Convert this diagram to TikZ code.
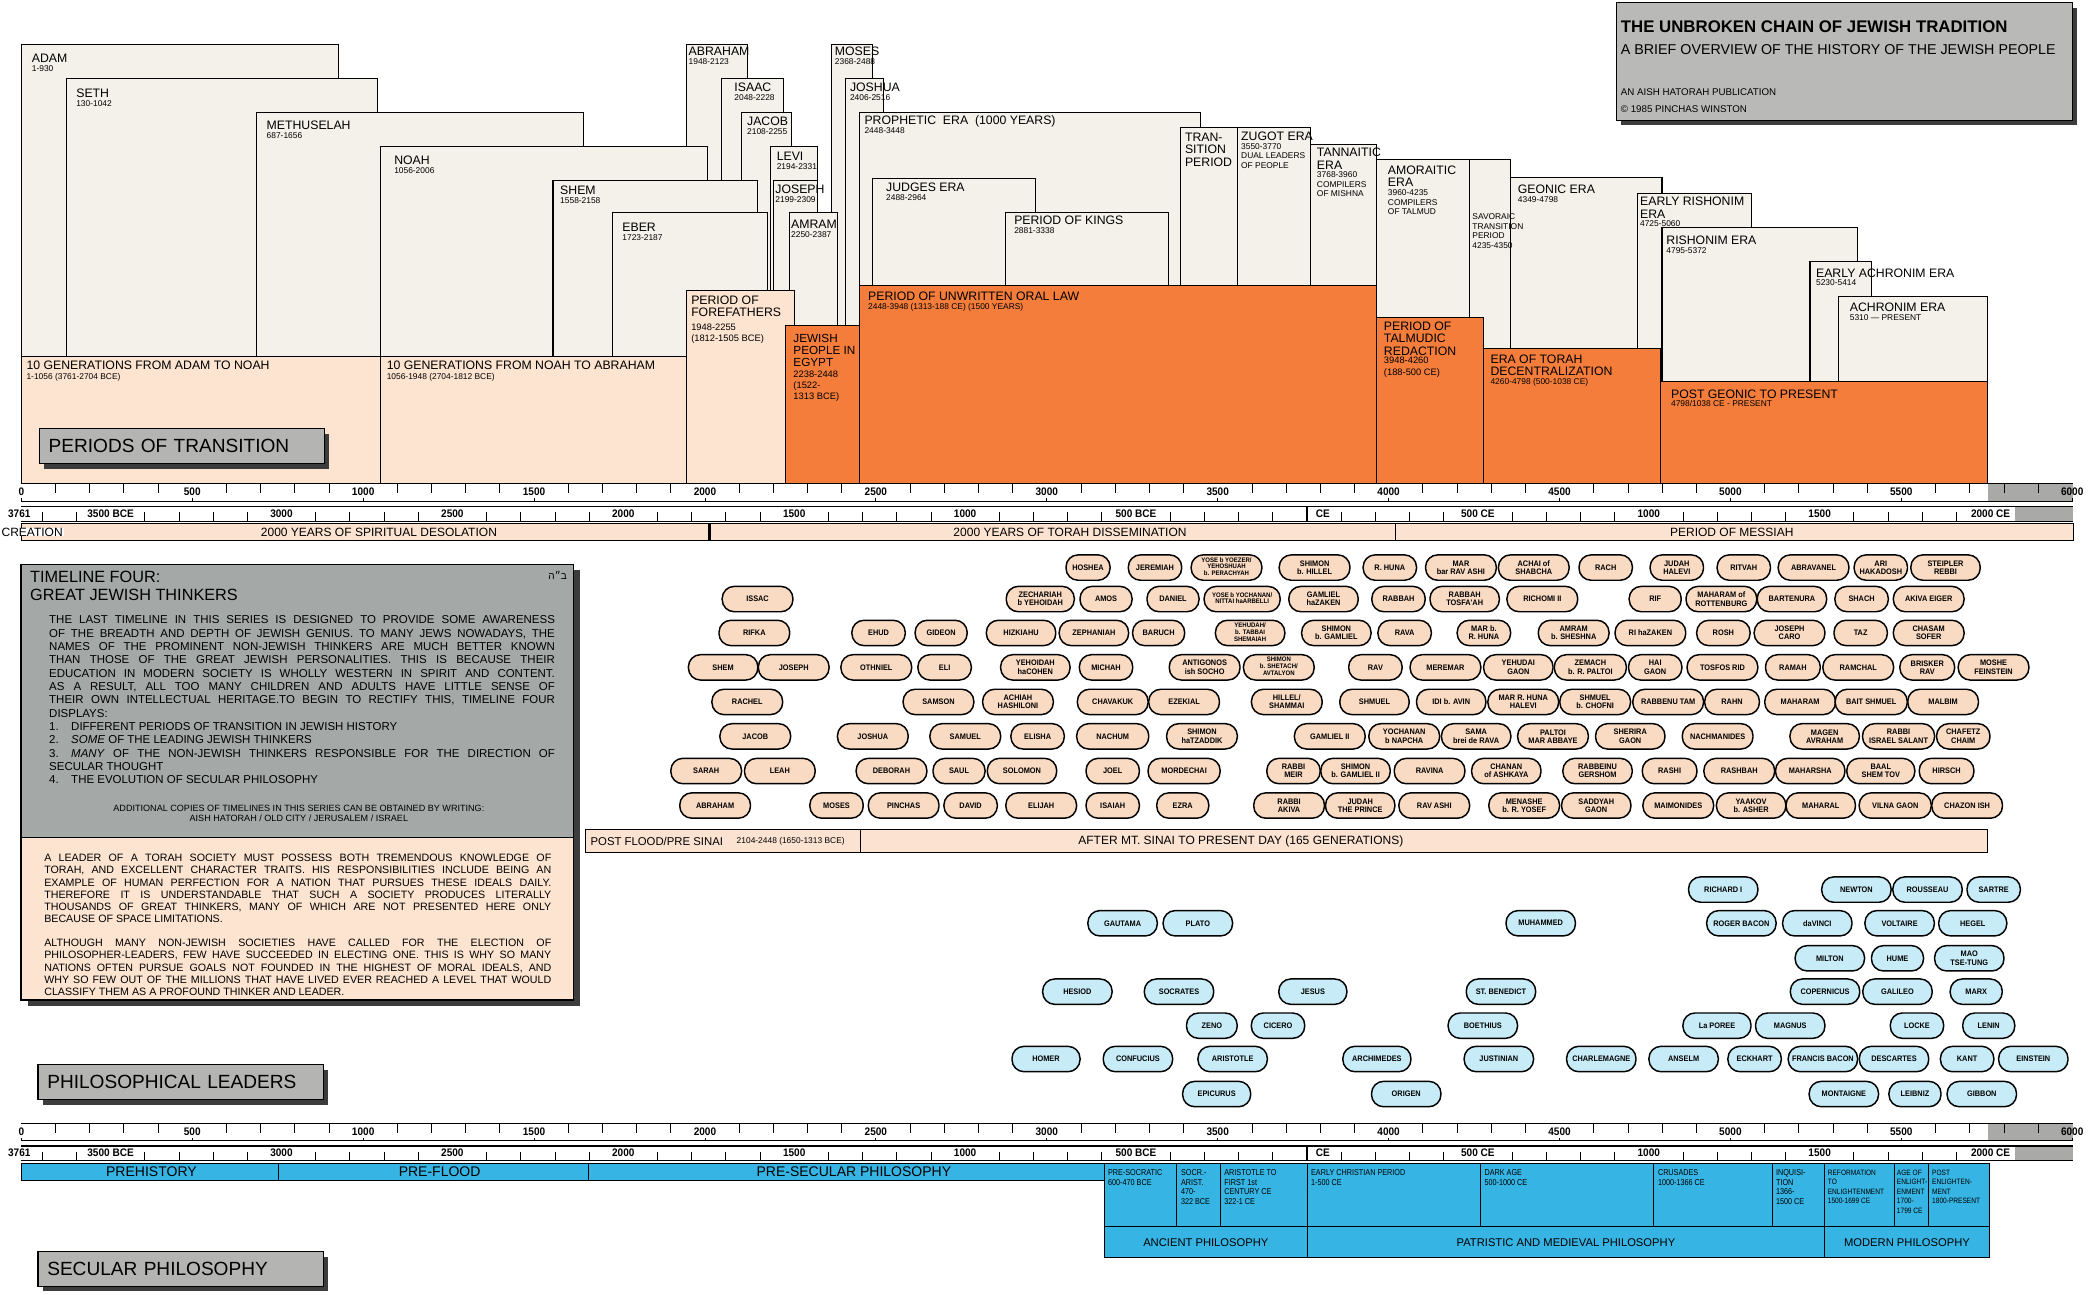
\documentclass[tikz,border=0pt]{standalone}
\usepackage{fontspec}
\setmainfont{Liberation Sans}
\newfontfamily\ovalfont[FakeStretch=0.92]{Liberation Sans}
\newfontfamily\narrowfont[FakeStretch=0.85]{Liberation Sans}
\newfontfamily\hebfont[Script=Hebrew]{Liberation Sans}
\TeXXeTstate=1
\newcommand\smalloval[1]{{\fontsize{4.9}{5.1}\selectfont\begin{tabular}{@{}c@{}}#1\end{tabular}}}

\definecolor{cream}{HTML}{F4F1EA}
\definecolor{genpeach}{HTML}{FCE4D0}
\definecolor{lawred}{HTML}{F47D3B}
\definecolor{barpeach}{HTML}{FCE3D1}
\definecolor{ovalpeach}{HTML}{F9DAC2}
\definecolor{philblue}{HTML}{36B4E3}
\definecolor{ovalblue}{HTML}{C8ECF7}
\definecolor{taggray}{HTML}{B4B5B2}
\definecolor{titlegray}{HTML}{B9BAB7}
\definecolor{tlgray}{HTML}{A4A8A6}
\definecolor{axgray}{HTML}{A9AAA8}
\definecolor{shadowgray}{HTML}{3C3C3C}

\tikzset{
  era/.style={draw, line width=0.8pt, fill=cream},
  gen/.style={draw, line width=0.8pt, fill=genpeach},
  law/.style={draw, line width=0.8pt, fill=lawred},
  nm/.style={anchor=north west, inner sep=0pt, align=left, font=\fontsize{9.2}{9.3}\selectfont},
  dt/.style={anchor=north west, inner sep=0pt, align=left, font=\fontsize{6.3}{7.2}\selectfont},
  bigdt/.style={dt, font=\fontsize{7}{8.4}\selectfont},
  axl/.style={inner sep=0pt, font=\ovalfont\bfseries\fontsize{8.2}{8.2}\selectfont},
  pbar/.style={draw, line width=0.7pt, fill=barpeach},
  bartext/.style={inner sep=0pt, font=\fontsize{9}{9}\selectfont},
  thinker/.style={draw, line width=1.1pt, fill=ovalpeach, rounded corners=9pt,
    minimum height=19pt, inner sep=0.5pt, align=center,
    font=\ovalfont\bfseries\fontsize{6}{6.2}\selectfont},
  philo/.style={thinker, fill=ovalblue},
  shadowed/.style={preaction={fill=shadowgray, transform canvas={xshift=3.5pt, yshift=-4pt}}},
  tag/.style={shadowed, draw, line width=0.9pt, fill=taggray, anchor=north west,
    text width=200pt, inner xsep=7pt, inner ysep=0pt, minimum height=26pt,
    align=left, font=\fontsize{14.3}{15}\selectfont},
  bluebar/.style={draw, line width=0.7pt, fill=philblue},
  philtxt/.style={anchor=north west, inner sep=0pt, align=left, font=\narrowfont\fontsize{6.4}{7.2}\selectfont},
  philsmall/.style={philtxt, font=\narrowfont\fontsize{5.8}{7.2}\selectfont},
  philbig/.style={inner sep=0pt, font=\fontsize{8.4}{8.4}\selectfont},
}

\begin{document}
\begin{tikzpicture}[x=1pt,y=-1pt]
\useasboundingbox (0,0) rectangle (1568,970);

% title
\node[shadowed, draw, line width=0.9pt, fill=titlegray, anchor=north west, minimum width=341.8pt, minimum height=88.4pt, inner sep=0pt] (titlebox) at (1211.2,1.2) {};
\node[anchor=north west, inner sep=0pt, font=\bfseries\fontsize{12.6}{12.6}\selectfont] (title) at (1214.7,15) {THE UNBROKEN CHAIN OF JEWISH TRADITION};
\node[anchor=north west, inner sep=0pt, font=\fontsize{10.7}{10.7}\selectfont] (subtitle) at (1214.7,33) {A BRIEF OVERVIEW OF THE HISTORY OF THE JEWISH PEOPLE};
\node[anchor=north west, inner sep=0pt, font=\fontsize{7.3}{7.3}\selectfont] (pub) at (1214.7,66) {AN AISH HATORAH PUBLICATION};
\node[anchor=north west, inner sep=0pt, font=\fontsize{7.3}{7.3}\selectfont] (copyr) at (1214.7,79) {\textcopyright\ 1985 PINCHAS WINSTON};

% generations and eras, drawn from the top row down
\foreach \l/\t/\r in {16/33/253.5, 514.5/33/560.5, 623/33/654,
    49.5/58.5/283, 540.5/58.5/587.5, 634/58.5/662,
    192/84/437.5, 556/84/593.5, 644.5/84/900,
    885/95.5/927.5, 927.5/95.5/982.5, 982.5/108/1031.8,
    285/109.5/530, 577.5/109.5/613,
    1031.8/119.5/1101.2, 1101.2/119.5/1132.2,
    1132.2/133.2/1245.7, 654/134/776.3,
    414.5/135/568, 579.5/135/612.5, 1227/145.2/1312.5,
    459/159.5/575.5, 591.5/159.5/628, 753.8/159.5/876,
    1245.7/170.8/1392.4, 1356.6/196.2/1402.9, 1378/222.1/1489.7}
  \draw[era] (\l,\t) rectangle (\r,362.5);

\draw[gen] (16,267) rectangle (285,362.5);
\draw[gen] (285,267) rectangle (514.5,362.5);
\draw[gen] (514.5,218) rectangle (595.5,362.5);
\draw[law] (588.5,243.7) rectangle (644.5,362.5);
\draw[law] (644.5,214) rectangle (1031.8,362.5);
\draw[law] (1031.8,237.8) rectangle (1112.2,362.5);
\draw[law] (1112.2,261.5) rectangle (1244.8,362.5);
\draw[law] (1244.8,285.6) rectangle (1489.7,362.5);

% era labels
\node[nm] (adam) at (23.7,40.5) {ADAM};
\node[dt] (adamd) at (23.7,49) {1-930};
\node[nm] (seth) at (57,66.3) {SETH};
\node[dt] (sethd) at (57,75) {130-1042};
\node[nm] (meth) at (199.7,90.8) {METHUSELAH};
\node[dt] (methd) at (199.7,99.5) {687-1656};
\node[nm] (noah) at (295.3,116.8) {NOAH};
\node[dt] (noahd) at (295.3,125.5) {1056-2006};
\node[nm] (shem) at (419.7,139.5) {SHEM};
\node[dt] (shemd) at (419.7,148.2) {1558-2158};
\node[nm] (eber) at (466.3,166.8) {EBER};
\node[dt] (eberd) at (466.3,175.5) {1723-2187};
\node[nm] (abraham) at (516,35) {ABRAHAM};
\node[dt] (abrahamd) at (516,43.7) {1948-2123};
\node[nm] (isaac) at (550.3,61.8) {ISAAC};
\node[dt] (isaacd) at (550.3,70.5) {2048-2228};
\node[nm] (jacob) at (559.8,87.5) {JACOB};
\node[dt] (jacobd) at (559.8,96.2) {2108-2255};
\node[nm] (levi) at (582,113.8) {LEVI};
\node[dt] (levid) at (582,122.5) {2194-2331};
\node[nm] (joseph) at (581,138.5) {JOSEPH};
\node[dt] (josephd) at (581,147.2) {2199-2309};
\node[nm] (amram) at (592.8,165) {AMRAM};
\node[dt] (amramd) at (592.8,173.7) {2250-2387};
\node[nm] (moses) at (625.6,35) {MOSES};
\node[dt] (mosesd) at (625.6,43.7) {2368-2488};
\node[nm] (joshua) at (636.9,61.8) {JOSHUA};
\node[dt] (joshuad) at (636.9,70.5) {2406-2516};
\node[nm] (prophetic) at (647.8,86.3) {PROPHETIC\ \ ERA\ \ (1000 YEARS)};
\node[dt] (propheticd) at (647.8,95.5) {2448-3448};
\node[nm] (judges) at (664,136.8) {JUDGES ERA};
\node[dt] (judgesd) at (664,145.5) {2488-2964};
\node[nm] (kings) at (760,162) {PERIOD OF KINGS};
\node[dt] (kingsd) at (760,170.7) {2881-3338};
\node[nm] (transition) at (888,99.5) {TRAN-\\SITION\\PERIOD};
\node[nm] (zugot) at (930.1,98.4) {ZUGOT ERA};
\node[dt] (zugotd) at (930.1,107.3) {3550-3770\\DUAL LEADERS\\OF PEOPLE};
\node[nm] (tannaitic) at (986.9,110.8) {TANNAITIC\\ERA};
\node[dt] (tannaiticd) at (986.9,128.5) {3768-3960\\COMPILERS\\OF MISHNA};
\node[nm] (amoraitic) at (1040.1,123.8) {AMORAITIC\\ERA};
\node[dt] (amoraiticd) at (1040.1,142) {3960-4235\\COMPILERS\\OF TALMUD};
\node[dt] (savoraic) at (1103.4,159.9) {SAVORAIC\\TRANSITION\\PERIOD\\4235-4350};
\node[nm] (geonic) at (1137.5,138.7) {GEONIC ERA};
\node[dt] (geonicd) at (1137.5,147.5) {4349-4798};
\node[nm] (earlyrishonim) at (1229.1,147.7) {EARLY RISHONIM\\ERA};
\node[dt] (earlyrishonimd) at (1229.1,165.2) {4725-5060};
\node[nm] (rishonim) at (1248.8,176.8) {RISHONIM ERA};
\node[dt] (rishonimd) at (1248.8,185.3) {4795-5372};
\node[nm] (earlyachronim) at (1361,201.2) {EARLY ACHRONIM ERA};
\node[dt] (earlyachronimd) at (1361,209.5) {5230-5414};
\node[nm] (achronim) at (1386.3,227.1) {ACHRONIM ERA};
\node[dt] (achronimd) at (1386.3,235.7) {5310 --- PRESENT};
\node[nm] (adamnoah) at (19.7,270) {10 GENERATIONS FROM ADAM TO NOAH};
\node[dt] (adamnoahd) at (19.7,280) {1-1056 (3761-2704 BCE)};
\node[nm] (noahabraham) at (289.7,270) {10 GENERATIONS FROM NOAH TO ABRAHAM};
\node[dt] (noahabrahamd) at (289.7,280) {1056-1948 (2704-1812 BCE)};
\node[nm, font=\fontsize{9.2}{9.6}\selectfont] (forefathers) at (517.9,221.3) {PERIOD OF\\FOREFATHERS};
\node[bigdt] (forefathersd) at (517.9,242.5) {1948-2255\\(1812-1505 BCE)};
\node[nm, font=\fontsize{8.8}{9.1}\selectfont] (egypt) at (594.5,250) {JEWISH\\PEOPLE IN\\EGYPT};
\node[bigdt] (egyptd) at (594.5,277.5) {2238-2448\\(1522-\\1313 BCE)};
\node[nm] (orallaw) at (650.5,218.8) {PERIOD OF UNWRITTEN ORAL LAW};
\node[dt] (orallawd) at (650.5,227.5) {2448-3948 (1313-188 CE) (1500 YEARS)};
\node[nm] (talmudic) at (1037.1,241) {PERIOD OF\\TALMUDIC\\REDACTION};
\node[bigdt] (talmudicd) at (1037.1,267.7) {3948-4260\\(188-500 CE)};
\node[nm] (decentral) at (1117,265.7) {ERA OF TORAH\\DECENTRALIZATION};
\node[dt] (decentrald) at (1117,283.6) {4260-4798 (500-1038 CE)};
\node[nm] (postgeonic) at (1252.3,291.8) {POST GEONIC TO PRESENT};
\node[dt] (postgeonicd) at (1252.3,299.7) {4798/1038 CE - PRESENT};

\node[tag] (ptrans) at (29,321) {PERIODS OF TRANSITION};

% the two year scales, above and below
\foreach \oy [count=\a] in {0,479.5}{
  \fill[axgray] (1489.7,362.5+\oy) rectangle (1554,375.5+\oy);
  \fill[axgray] (1510,379.5+\oy) rectangle (1554,390.5+\oy);
  \draw[line width=1.2pt] (16,362.5+\oy) -- (1554,362.5+\oy);
  \draw[line width=0.6pt] (16,375.5+\oy) -- (1554,375.5+\oy);
  \draw[line width=1.2pt] (16,379.5+\oy) -- (1554,379.5+\oy);
  \draw[line width=0.6pt] (16,390.5+\oy) -- (1554,390.5+\oy);
  \foreach \k in {1,...,59}{
    \pgfmathtruncatemacro\r{mod(\k,5)}
    \ifnum\r>0 \draw[line width=0.6pt] ({16+25.62*\k},362.5+\oy) -- ++(0,7);\fi}
  \foreach \y in {0,500,...,6000}{
    \node[axl] (am\a-\y) at ({16+0.2562*\y},368.8+\oy) {\y};
    \draw[line width=0.6pt] ({16+0.2562*\y},373.5+\oy) -- ++(0,2);}
  \foreach \k in {0,...,57}{
    \pgfmathtruncatemacro\r{mod(\k,5)}
    \ifnum\r=2 \else \draw[line width=0.6pt] ({31.63+25.62*\k},390.5+\oy) -- ++(0,-6.5);\fi}
  \foreach \k/\t [count=\c] in {2/3500 BCE,7/3000,12/2500,17/2000,22/1500,27/1000,32/500 BCE,42/500 CE,47/1000,52/1500,57/2000 CE}
    \node[axl] (ce\a-\c) at ({31.63+25.62*\k},384.8+\oy) {\t};
  \node[axl] (start\a) at (14.5,384.8+\oy) {3761};
  \draw[line width=1.4pt] (979.6,379.5+\oy) -- (979.6,390.5+\oy);
  \node[axl] (cel\a) at (991.5,384.8+\oy) {CE};
}

% eras of history
\draw[pbar] (16,392.5) rectangle (531.5,405);
\draw[pbar] (531.5,392.5) rectangle (1045.6,405);
\draw[pbar] (1045.6,392.5) rectangle (1554,405);
\draw[line width=2.2pt] (531.5,392.5) -- (531.5,405);
\node[bartext, fill=white, anchor=west, inner xsep=1pt] (creation) at (0,398.8) {CREATION};
\node[bartext] (desolation) at (284,398.8) {2000 YEARS OF SPIRITUAL DESOLATION};
\node[bartext] (dissemination) at (802,398.8) {2000 YEARS OF TORAH DISSEMINATION};
\node[bartext] (messiah) at (1298,398.8) {PERIOD OF MESSIAH};

% timeline four panel
\fill[shadowgray] (21,427.5) rectangle (434.8,753.8);
\fill[tlgray] (15.8,423) rectangle (429.6,627.5);
\fill[genpeach] (15.8,627.5) rectangle (429.6,749.5);
\draw[line width=0.9pt] (15.8,423) rectangle (429.6,749.5);
\draw[line width=0.5pt] (15.8,627.5) -- (429.6,627.5);
\node[anchor=north west, inner sep=0pt, align=left, font=\fontsize{12.2}{14.2}\selectfont] (tlhead) at (22.4,427.5) {TIMELINE FOUR:\\GREAT JEWISH THINKERS};
\node[anchor=north east, inner sep=0pt, font=\hebfont\fontsize{7.5}{7.5}\selectfont] (bh) at (425,428) {\beginR ב״ה\endR};
\node[anchor=north west, inner sep=0pt, align=left, font=\fontsize{8.6}{10}\selectfont] (tlintro) at (36.7,461.3) {%
\makebox[379pt][s]{THE LAST TIMELINE IN THIS SERIES IS DESIGNED TO PROVIDE SOME AWARENESS}\\
\makebox[379pt][s]{OF THE BREADTH AND DEPTH OF JEWISH GENIUS. TO MANY JEWS NOWADAYS, THE}\\
\makebox[379pt][s]{NAMES OF THE PROMINENT NON-JEWISH THINKERS ARE MUCH BETTER KNOWN}\\
\makebox[379pt][s]{THAN THOSE OF THE GREAT JEWISH PERSONALITIES. THIS IS BECAUSE THEIR}\\
\makebox[379pt][s]{EDUCATION IN MODERN SOCIETY IS WHOLLY WESTERN IN SPIRIT AND CONTENT.}\\
\makebox[379pt][s]{AS A RESULT, ALL TOO MANY CHILDREN AND ADULTS HAVE LITTLE SENSE OF}\\
\makebox[379pt][s]{THEIR OWN INTELLECTUAL HERITAGE.TO BEGIN TO RECTIFY THIS, TIMELINE FOUR}\\
DISPLAYS:\\
\makebox[16.5pt][l]{1.}DIFFERENT PERIODS OF TRANSITION IN JEWISH HISTORY\\
\makebox[16.5pt][l]{2.}\textit{SOME} OF THE LEADING JEWISH THINKERS\\
\makebox[379pt][s]{\makebox[16.5pt][l]{3.}\textit{MANY} OF THE NON-JEWISH THINKERS RESPONSIBLE FOR THE DIRECTION OF}\\
SECULAR THOUGHT\\
\makebox[16.5pt][l]{4.}THE EVOLUTION OF SECULAR PHILOSOPHY};
\node[anchor=north, inner sep=0pt, align=center, font=\fontsize{6.8}{7.3}\selectfont] (tlcopies) at (224,603.2) {ADDITIONAL COPIES OF TIMELINES IN THIS SERIES CAN BE OBTAINED BY WRITING:\\AISH HATORAH / OLD CITY / JERUSALEM / ISRAEL};
\node[anchor=north west, inner sep=0pt, align=left, font=\fontsize{8}{9.2}\selectfont] (tlleader) at (33,640) {%
\makebox[380pt][s]{A LEADER OF A TORAH SOCIETY MUST POSSESS BOTH TREMENDOUS KNOWLEDGE OF}\\
\makebox[380pt][s]{TORAH, AND EXCELLENT CHARACTER TRAITS. HIS RESPONSIBILITIES INCLUDE BEING AN}\\
\makebox[380pt][s]{EXAMPLE OF HUMAN PERFECTION FOR A NATION THAT PURSUES THESE IDEALS DAILY.}\\
\makebox[380pt][s]{THEREFORE IT IS UNDERSTANDABLE THAT SUCH A SOCIETY PRODUCES LITERALLY}\\
\makebox[380pt][s]{THOUSANDS OF GREAT THINKERS, MANY OF WHICH ARE NOT PRESENTED HERE ONLY}\\
BECAUSE OF SPACE LIMITATIONS.};
\node[anchor=north west, inner sep=0pt, align=left, font=\fontsize{8}{9.2}\selectfont] (tlelect) at (33,703.7) {%
\makebox[380pt][s]{ALTHOUGH MANY NON-JEWISH SOCIETIES HAVE CALLED FOR THE ELECTION OF}\\
\makebox[380pt][s]{PHILOSOPHER-LEADERS, FEW HAVE SUCCEEDED IN ELECTING ONE. THIS IS WHY SO MANY}\\
\makebox[380pt][s]{NATIONS OFTEN PURSUE GOALS NOT FOUNDED IN THE HIGHEST OF MORAL IDEALS, AND}\\
\makebox[380pt][s]{WHY SO FEW OUT OF THE MILLIONS THAT HAVE LIVED EVER REACHED A LEVEL THAT WOULD}\\
CLASSIFY THEM AS A PROFOUND THINKER AND LEADER.};

% great jewish thinkers
\foreach \x/\w/\t [count=\i] in {815.5/33/HOSHEA, 865.7/40/JEREMIAH, 919.3/53/{\smalloval{YOSE b YOEZER/\\YEHOSHUAH\\b. PERACHYAH}}, 985.3/53/{SHIMON\\b. HILLEL}, 1041.7/40/R. HUNA, 1095/53/{MAR\\bar RAV ASHI}, 1149.6/53/{ACHAI of\\SHABCHA}, 1203.5/40/RACH, 1256.8/40/{JUDAH\\HALEVI}, 1307/40/RITVAH, 1359.3/53/ABRAVANEL, 1409.7/40/{ARI\\HAKADOSH}, 1458.2/52/{STEIPLER\\REBBI}}
  \node[thinker, minimum width=\w pt] (ja\i) at (\x,425.4) {\t};
\foreach \x/\w/\t [count=\i] in {567.8/53/ISSAC, 779.7/51/{ZECHARIAH\\b YEHOIDAH}, 829/39/AMOS, 879.2/39/DANIEL, 931/57/{\smalloval{YOSE b YOCHANAN/\\NITTAI haARBELLI}}, 992/52/{GAMLIEL\\haZAKEN}, 1048.2/40/RABBAH, 1097.8/52/{RABBAH\\TOSFA'AH}, 1156/53/RICHOMI II, 1240.6/39/RIF, 1290.2/53/{MAHARAM of\\ROTTENBURG}, 1343.1/52/BARTENURA, 1395.3/40/SHACH, 1445.6/53/AKIVA EIGER}
  \node[thinker, minimum width=\w pt] (jb\i) at (\x,449) {\t};
\foreach \x/\w/\t [count=\i] in {565.4/53/RIFKA, 658.5/40/EHUD, 705.4/39/GIDEON, 765.3/52/HIZKIAHU, 819.9/52/ZEPHANIAH, 868.4/39/BARUCH, 937/52/{\smalloval{YEHUDAH/\\b. TABBAI\\SHEMAIAH}}, 1001.6/52/{SHIMON\\b. GAMLIEL}, 1052.8/40/RAVA, 1112.2/40/{MAR b.\\R. HUNA}, 1179.5/53/{AMRAM\\b. SHESHNA}, 1237/53/RI haZAKEN, 1291.7/40/ROSH, 1341.3/53/{JOSEPH\\CARO}, 1394.6/40/TAZ, 1445.6/53/{CHASAM\\SOFER}}
  \node[thinker, minimum width=\w pt] (jc\i) at (\x,474.4) {\t};
\foreach \x/\w/\t [count=\i] in {542/52/SHEM, 594.9/53/JOSEPH, 656.8/53/OTHNIEL, 708/40/ELI, 776/52/{YEHOIDAH\\haCOHEN}, 829/40/MICHAH, 902.9/53/{ANTIGONOS\\ish SOCHO}, 958.5/53/{\smalloval{SHIMON\\b. SHETACH/\\AVTALYON}}, 1030.9/40/RAV, 1083.4/53/MEREMAR, 1138/52/{YEHUDAI\\GAON}, 1192/54/{ZEMACH\\b. R. PALTOI}, 1240.6/40/{HAI\\GAON}, 1291/53/TOSFOS RID, 1343.8/41/RAMAH, 1392.8/53/RAMCHAL, 1444.5/41/{BRISKER\\RAV}, 1494.2/53/{MOSHE\\FEINSTEIN}}
  \node[thinker, minimum width=\w pt] (jd\i) at (\x,500.2) {\t};
\foreach \x/\w/\t [count=\i] in {560.1/53/RACHEL, 703.4/53/SAMSON, 763/53/{ACHIAH\\HASHILONI}, 834/53/CHAVAKUK, 887.5/53/EZEKIAL, 964.5/53/{HILLEL/\\SHAMMAI}, 1030.2/52/SHMUEL, 1087.7/52/IDI b. AVIN, 1141.7/53/{MAR R. HUNA\\HALEVI}, 1195.6/53/{SHMUEL\\b. CHOFNI}, 1250.3/53/RABBENU TAM, 1298.2/41/RAHN, 1349.2/53/MAHARAM, 1402.5/54/BAIT SHMUEL, 1456.4/53/MALBIM}
  \node[thinker, minimum width=\w pt] (je\i) at (\x,526.1) {\t};
\foreach \x/\w/\t [count=\i] in {566.1/53/JACOB, 654.2/53/JOSHUA, 723.5/53/SAMUEL, 777.7/40/ELISHA, 834/54/NACHUM, 900.9/53/{SHIMON\\haTZADDIK}, 996.7/53/GAMLIEL II, 1052.5/53/{YOCHANAN\\b NAPCHA}, 1106.4/52/{SAMA\\brei de RAVA}, 1164/53/{PALTOI\\MAR ABBAYE}, 1221.9/52/{SHERIRA\\GAON}, 1287.4/53/NACHMANIDES, 1367.6/52/{MAGEN\\AVRAHAM}, 1423/54/{RABBI\\ISRAEL SALANT}, 1471.5/40/{CHAFETZ\\CHAIM}}
  \node[thinker, minimum width=\w pt] (jf\i) at (\x,551.9) {\t};
\foreach \x/\w/\t [count=\i] in {529.3/53/SARAH, 584.5/53/LEAH, 668.2/53/DEBORAH, 718.8/39/SAUL, 766/52/SOLOMON, 834/40/JOEL, 887.5/54/MORDECHAI, 969.5/40/{RABBI\\MEIR}, 1016/52/{SHIMON\\b. GAMLIEL II}, 1071.5/53/RAVINA, 1129/52/{CHANAN\\of ASHKAYA}, 1197.4/52/{RABBEINU\\GERSHOM}, 1251.4/41/RASHI, 1303.6/53/RASHBAH, 1356.8/52/MAHARSHA, 1409.7/51/{BAAL\\SHEM TOV}, 1459/41/HIRSCH}
  \node[thinker, minimum width=\w pt] (jg\i) at (\x,577.9) {\t};
\foreach \x/\w/\t [count=\i] in {536/53/ABRAHAM, 627/40/MOSES, 677.3/53/PINCHAS, 727.5/40/DAVID, 780.4/53/ELIJAH, 834/40/ISAIAH, 886.5/39/EZRA, 966.2/53/{RABBI\\AKIVA}, 1019.5/52/{JUDAH\\THE PRINCE}, 1075/53/RAV ASHI, 1142.4/53/{MENASHE\\b. R. YOSEF}, 1196.4/52/{SADDYAH\\GAON}, 1257.9/53/MAIMONIDES, 1312.5/52/{YAAKOV\\b. ASHER}, 1364.7/52/MAHARAL, 1420.5/54/VILNA GAON, 1474.4/53/CHAZON ISH}
  \node[thinker, minimum width=\w pt] (jh\i) at (\x,603.75) {\t};

\draw[pbar] (439,622) rectangle (644.8,639);
\draw[pbar] (644.8,622) rectangle (1489.5,639);
\node[bartext, anchor=west, font=\fontsize{8.5}{8.5}\selectfont] (preSinai) at (442.5,630.5) {POST FLOOD/PRE SINAI};
\node[bartext, anchor=west, font=\fontsize{6.3}{6.3}\selectfont] (preSinaid) at (552,630.5) {2104-2448 (1650-1313 BCE)};
\node[bartext] (afterSinai) at (930,630.5) {AFTER MT. SINAI TO PRESENT DAY (165 GENERATIONS)};

% philosophical leaders
\foreach \x/\w/\t [count=\i] in {1291.6/52/RICHARD I, 1391.4/52/NEWTON, 1444.7/52/ROUSSEAU, 1494.3/40/SARTRE}
  \node[philo, minimum width=\w pt] (pa\i) at (\x,666.75) {\t};
\foreach \x/\w/\t [count=\i] in {841.4/52/GAUTAMA, 897.8/52/PLATO, 1154.8/52/MUHAMMED, 1305.2/52/ROGER BACON, 1362.1/52/daVINCI, 1423.8/52/VOLTAIRE, 1478.6/51/HEGEL}
  \node[philo, minimum width=\w pt] (pb\i) at (\x,692) {\t};
\foreach \x/\w/\t [count=\i] in {1371.5/52/MILTON, 1422.2/39/HUME, 1476/52/{MAO\\TSE-TUNG}}
  \node[philo, minimum width=\w pt] (pc\i) at (\x,718.25) {\t};
\foreach \x/\w/\t [count=\i] in {807.5/52/HESIOD, 883.7/52/SOCRATES, 984/51/JESUS, 1125/52/ST. BENEDICT, 1367.9/52/COPERNICUS, 1422.2/52/GALILEO, 1481.2/39/MARX}
  \node[philo, minimum width=\w pt] (pd\i) at (\x,743.25) {\t};
\foreach \x/\w/\t [count=\i] in {908.3/38/ZENO, 957.9/40/CICERO, 1111.4/52/BOETHIUS, 1286.9/51/La POREE, 1341.8/52/MAGNUS, 1436.8/40/LOCKE, 1490.6/39/LENIN}
  \node[philo, minimum width=\w pt] (pe\i) at (\x,768.75) {\t};
\foreach \x/\w/\t [count=\i] in {784/51/HOMER, 852.9/52/CONFUCIUS, 923.9/52/ARISTOTLE, 1032/51/ARCHIMEDES, 1123.4/52/JUSTINIAN, 1200.2/52/CHARLEMAGNE, 1261.9/52/ANSELM, 1315.1/40/ECKHART, 1366.3/52/FRANCIS BACON, 1419.6/52/DESCARTES, 1474.4/40/KANT, 1524/52/EINSTEIN}
  \node[philo, minimum width=\w pt] (pf\i) at (\x,793.75) {\t};
\foreach \x/\w/\t [count=\i] in {911.9/51/EPICURUS, 1054/52/ORIGEN, 1382/52/MONTAIGNE, 1435.3/39/LEIBNIZ, 1485.4/52/GIBBON}
  \node[philo, minimum width=\w pt] (pg\i) at (\x,820) {\t};

\node[tag] (pleaders) at (28,797.5) {PHILOSOPHICAL LEADERS};

% secular philosophy
\draw[bluebar] (16,872) rectangle (208.9,884.5);
\draw[bluebar] (208.9,872) rectangle (441,884.5);
\draw[bluebar] (441,872) rectangle (827.8,884.5);
\node[bartext, font=\fontsize{10.5}{10.5}\selectfont] (prehistory) at (113.5,878.3) {PREHISTORY};
\node[bartext, font=\fontsize{10.5}{10.5}\selectfont] (preflood) at (329.5,878.3) {PRE-FLOOD};
\node[bartext, font=\fontsize{10.5}{10.5}\selectfont] (presecular) at (640,878.3) {PRE-SECULAR PHILOSOPHY};
\foreach \l/\r in {827.8/882.1, 882.1/914.9, 914.9/979.8, 979.8/1109.6, 1109.6/1239.4, 1239.4/1328.5, 1328.5/1367.7, 1367.7/1420, 1420/1445.7, 1445.7/1491}
  \draw[bluebar] (\l,872) rectangle (\r,919.5);
\draw[bluebar] (827.8,919.5) rectangle (979.8,942.5);
\draw[bluebar] (979.8,919.5) rectangle (1367.7,942.5);
\draw[bluebar] (1367.7,919.5) rectangle (1491,942.5);
\node[philtxt] (presocratic) at (830.3,876.5) {PRE-SOCRATIC\\600-470 BCE};
\node[philtxt] (socrarist) at (885,876.5) {SOCR.-\\ARIST.\\470-\\322 BCE};
\node[philtxt] (aristotleto) at (917.5,876.5) {ARISTOTLE TO\\FIRST 1st\\CENTURY CE\\322-1 CE};
\node[philtxt] (earlychristian) at (982.5,876.5) {EARLY CHRISTIAN PERIOD\\1-500 CE};
\node[philtxt] (darkage) at (1112.5,876.5) {DARK AGE\\500-1000 CE};
\node[philtxt] (crusades) at (1242.5,876.5) {CRUSADES\\1000-1366 CE};
\node[philtxt] (inquisition) at (1331,876.5) {INQUISI-\\TION\\1366-\\1500 CE};
\node[philsmall] (reformation) at (1369.8,876.5) {REFORMATION\\TO\\ENLIGHTENMENT\\1500-1699 CE};
\node[philsmall] (enlightenment) at (1421.6,876.5) {AGE OF\\ENLIGHT-\\ENMENT\\1700-\\1799 CE};
\node[philsmall] (postenlight) at (1448,876.5) {POST\\ENLIGHTEN-\\MENT\\1800-PRESENT};
\node[philbig] (ancient) at (903.8,931) {ANCIENT PHILOSOPHY};
\node[philbig] (medieval) at (1173.7,931) {PATRISTIC AND MEDIEVAL PHILOSOPHY};
\node[philbig] (modern) at (1429.3,931) {MODERN PHILOSOPHY};

\node[tag] (psecular) at (28,937.5) {SECULAR PHILOSOPHY};
\end{tikzpicture}
\end{document}
